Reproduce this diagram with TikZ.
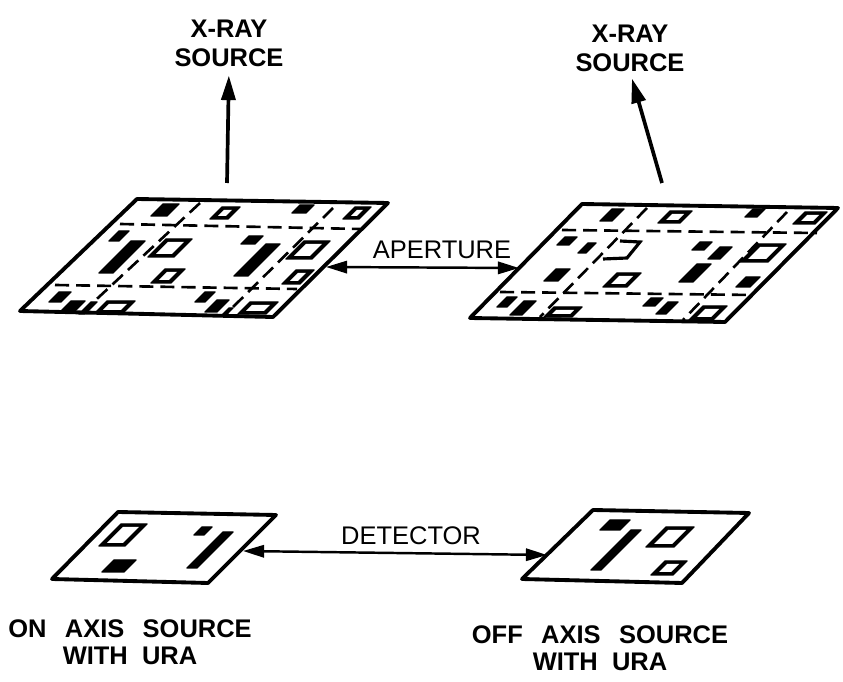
\documentclass[tikz,border=0pt]{standalone}
\usepackage{fontspec}
\setmainfont{Liberation Sans}
\usepackage{tikz}
\usetikzlibrary{
  arrows.meta,
  positioning
}
\newcommand{\cellblock}[4]{%
  \filldraw[line width=0.8pt, line join=round] ({#1-#3+#4},{#2-#4}) -- ({#1+#3+#4},{#2-#4}) -- ({#1+#3-#4},{#2+#4}) -- ({#1-#3-#4},{#2+#4}) -- cycle;}
\newcommand{\cellopen}[4]{%
  \cellblock{#1}{#2}{#3}{#4}
  \fill[white] ({#1-#3+#4+2},{#2-#4+3}) -- ({#1+#3+#4-8},{#2-#4+3}) -- ({#1+#3-#4-2},{#2+#4-3}) -- ({#1-#3-#4+8},{#2+#4-3}) -- cycle;}
\tikzset{
  plate/.style={line width=2.2pt, line join=round, fill=white},
  seam/.style={line width=1.5pt, dash pattern=on 8pt off 4pt},
  ray/.style={line width=2.1pt, -{Triangle[length=14pt, width=8pt]}},
  span/.style={line width=1.4pt, {Triangle[length=12pt, width=7pt]}-{Triangle[length=12pt, width=7pt]}},
  heading/.style={font=\fontsize{14.5}{16.5}\selectfont\bfseries, align=center, inner sep=0pt},
  caption/.style={font=\fontsize{14.5}{15.5}\selectfont\bfseries, align=center, inner sep=0pt},
  partname/.style={font=\fontsize{14.5}{16}\selectfont, inner sep=0pt}
}

\begin{document}
\begin{tikzpicture}[x=0.02cm, y=-0.02cm]
  \useasboundingbox (0,0) rectangle (843,682);

  %% --- Aperture plates ---
  \draw[plate] (137,199) -- (388,203) -- (273,317) -- (20,311) -- cycle;
  \draw[plate] (582,204) -- (838,208) -- (725,322) -- (470,318) -- cycle;

  %% --- Dashed seams on both plates ---
  \draw[seam] (120,224) -- (360,229);
  \draw[seam] (55,285) -- (297,289);
  \draw[seam] (200,203) -- (85,310);
  \draw[seam] (333,208) -- (227,313);
  \draw[seam] (562,230) -- (817,233);
  \draw[seam] (500,292) -- (753,295);
  \draw[seam] (647,208) -- (540,317);
  \draw[seam] (787,212) -- (683,320);

  %% --- Left aperture cells ---
  \foreach \cx/\cy/\w/\h in {165/210/8/6, 303/209/7/4, 119/236/5/5, 122/257/7/16,
    252/240/7/4, 257/260/7/16, 60/297/6/5, 72/307/7/6, 88/308/3/6, 205/297/5/5,
    217/306/6/6, 227/312/2/4} {
    \cellblock{\cx}{\cy}{\w}{\h}
  }
  \foreach \cx/\cy/\w/\h in {225/213/9/6, 357/213/8/6, 170/248/13/9, 168/276/10/7,
    308/250/13/9, 298/277/9/7, 115/307/14/6, 258/308/14/6} {
    \cellopen{\cx}{\cy}{\w}{\h}
  }

  %% --- Right aperture cells ---
  \foreach \cx/\cy/\w/\h in {612/215/6/6, 755/213/6/4, 567/241/6/4, 587/248/4/5,
    557/275/7/6, 702/246/6/4, 720/253/6/6, 695/273/7/9, 748/282/7/5, 507/302/5/5,
    523/308/6/7, 653/302/6/4, 667/308/5/6} {
    \cellblock{\cx}{\cy}{\w}{\h}
  }
  \foreach \cx/\cy/\w/\h in {675/217/11/6, 810/218/11/6, 622/280/12/7, 763/253/14/9,
    563/312/14/5, 708/313/12/7} {
    \cellopen{\cx}{\cy}{\w}{\h}
  }
  \draw[line width=1.8pt] (620,241) -- (640,242) -- (627,258) -- (603,259);

  %% --- Detector plates ---
  \draw[plate] (118,512) -- (276,515) -- (208,583) -- (52,579) -- cycle;
  \draw[plate] (593,510) -- (749,513) -- (682,583) -- (522,579) -- cycle;

  %% --- Detector cells ---
  \cellopen{123}{535}{13}{11}
  \cellblock{119}{566}{11}{6}
  \cellblock{203}{531}{5}{4}
  \cellblock{210}{550}{5}{18}
  \cellblock{615}{525}{10}{5}
  \cellblock{616}{550}{5}{20}
  \cellopen{670}{537}{14}{10}
  \cellopen{669}{568}{11}{7}

  %% --- Source labels and rays ---
  \node[heading] (sourceLeft) at (229,43) {X-RAY\\SOURCE};
  \node[heading] (sourceRight) at (630,48) {X-RAY\\SOURCE};
  \coordinate (rayLeft) at (227,183);
  \coordinate (rayRight) at (662,183);
  \draw[ray, shorten >=5pt] (rayLeft) -- (sourceLeft.south);
  \draw[ray, shorten >=4pt] (rayRight) -- (sourceRight.south);

  %% --- Aperture and detector spans ---
  \node[partname] (apertureName) at (442,250) {APERTURE};
  \coordinate (apertureLeft) at (326,267);
  \coordinate (apertureRight) at (519,268);
  \draw[span] (apertureLeft) -- (apertureRight);

  \node[partname] (detectorName) at (411,536) {DETECTOR};
  \coordinate (detectorLeft) at (243,551);
  \coordinate (detectorRight) at (547,555);
  \draw[span] (detectorLeft) -- (detectorRight);

  %% --- Captions at the bottom ---
  \node[caption] (captionLeft) at (130,642) {ON\ \ \,AXIS\ \ \,SOURCE\\WITH\ \ URA};
  \node[caption] (captionRight) at (600,648) {OFF\ \ \,AXIS\ \ \,SOURCE\\WITH\ \ URA};
\end{tikzpicture}
\end{document}
